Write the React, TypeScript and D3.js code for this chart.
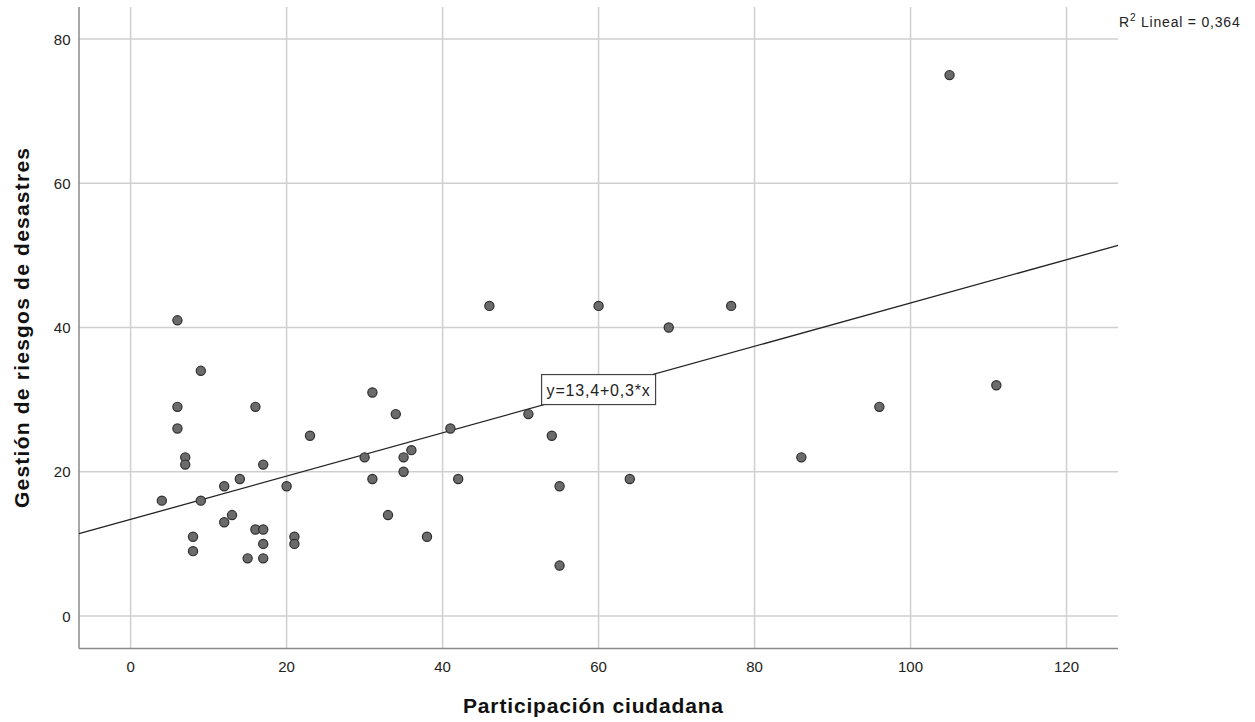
import * as d3 from "d3";
import React from "react";

// Participación ciudadana (x) vs Gestión de riesgos de desastres (y)
const participacion = [
  4, 6, 6, 6, 7, 7, 8, 8, 9, 9, 12, 12, 13, 14, 15, 16, 16, 17, 17, 17, 17, 20, 21, 21, 23,
  30, 31, 31, 33, 34, 35, 35, 36, 38, 41, 42, 46, 51, 54, 55, 55, 60, 64, 69, 77, 86, 96, 105, 111,
];
const gestion = [
  16, 41, 29, 26, 22, 21, 11, 9, 34, 16, 18, 13, 14, 19, 8, 29, 12, 21, 12, 10, 8, 18, 11, 10, 25,
  22, 31, 19, 14, 28, 22, 20, 23, 11, 26, 19, 43, 28, 25, 18, 7, 43, 19, 40, 43, 22, 29, 75, 32,
];
const xTicks = [0, 20, 40, 60, 80, 100, 120];
const yTicks = [0, 20, 40, 60, 80];
const fit = { intercept: 13.4, slope: 0.3, labelAt: 60, r2: "0,364" };

const W = 1255;
const H = 722;
const plot = { left: 79, right: 1118, top: 7, bottom: 648.5 };

export default function App() {
  const svgRef = React.useRef<SVGSVGElement>(null);

  React.useEffect(() => {
    document.body.style.margin = "0";
    if (!svgRef.current) return;
    const svg = d3.select(svgRef.current);
    svg.selectAll("*").remove();

    const x = d3.scaleLinear().domain([-6.62, 126.6]).range([plot.left, plot.right]);
    const y = d3.scaleLinear().domain([-4.5, 84.44]).range([plot.bottom, plot.top]);

    const font = "Liberation Sans, Arial, sans-serif";
    const grid = svg.append("g");

    // gridlines
    grid
      .selectAll("line.gx")
      .data(xTicks)
      .enter()
      .append("line")
      .attr("x1", (d) => x(d))
      .attr("x2", (d) => x(d))
      .attr("y1", plot.top)
      .attr("y2", plot.bottom)
      .attr("stroke", "#cfcfcf")
      .attr("stroke-width", 1.5);
    grid
      .selectAll("line.gy")
      .data(yTicks)
      .enter()
      .append("line")
      .attr("x1", plot.left)
      .attr("x2", plot.right)
      .attr("y1", (d) => y(d))
      .attr("y2", (d) => y(d))
      .attr("stroke", "#cfcfcf")
      .attr("stroke-width", 1.5);

    // axis lines
    svg
      .append("line")
      .attr("x1", plot.left)
      .attr("x2", plot.left)
      .attr("y1", plot.top)
      .attr("y2", plot.bottom)
      .attr("stroke", "#8a8a8a")
      .attr("stroke-width", 1.5);
    svg
      .append("line")
      .attr("x1", plot.left)
      .attr("x2", plot.right)
      .attr("y1", plot.bottom)
      .attr("y2", plot.bottom)
      .attr("stroke", "#8a8a8a")
      .attr("stroke-width", 1.5);

    // tick labels
    svg
      .selectAll("text.xt")
      .data(xTicks)
      .enter()
      .append("text")
      .attr("x", (d) => x(d))
      .attr("y", 672)
      .attr("text-anchor", "middle")
      .attr("font-family", font)
      .attr("font-size", 15)
      .attr("fill", "#222")
      .text((d) => d);
    svg
      .selectAll("text.yt")
      .data(yTicks)
      .enter()
      .append("text")
      .attr("x", 70.5)
      .attr("y", (d) => y(d) + 5.5)
      .attr("text-anchor", "end")
      .attr("font-family", font)
      .attr("font-size", 15)
      .attr("fill", "#222")
      .text((d) => d);

    // axis titles
    svg
      .append("text")
      .attr("x", 593)
      .attr("y", 713)
      .attr("text-anchor", "middle")
      .attr("font-family", font)
      .attr("font-weight", "bold")
      .attr("font-size", 21)
      .attr("textLength", 260)
      .attr("lengthAdjust", "spacing")
      .attr("fill", "#111")
      .text("Participación ciudadana");
    svg
      .append("text")
      .attr("transform", `translate(29,328) rotate(-90)`)
      .attr("text-anchor", "middle")
      .attr("font-family", font)
      .attr("font-weight", "bold")
      .attr("font-size", 21)
      .attr("textLength", 360)
      .attr("lengthAdjust", "spacing")
      .attr("fill", "#111")
      .text("Gestión de riesgos de desastres");

    // regression line
    const ends = x.domain();
    const line = d3
      .line<number>()
      .x((d) => x(d))
      .y((d) => y(fit.intercept + fit.slope * d));
    svg
      .append("path")
      .datum(ends)
      .attr("d", line)
      .attr("fill", "none")
      .attr("stroke", "#222")
      .attr("stroke-width", 1.3);

    // points
    const pts = participacion.map((v, i) => [v, gestion[i]] as [number, number]);
    svg
      .append("g")
      .selectAll("circle")
      .data(pts)
      .enter()
      .append("circle")
      .attr("cx", (d) => x(d[0]))
      .attr("cy", (d) => y(d[1]))
      .attr("r", 4.6)
      .attr("fill", "#6b6b6b")
      .attr("stroke", "#2e2e2e")
      .attr("stroke-width", 1.2);

    // equation label box
    const lx = x(fit.labelAt);
    const ly = y(fit.intercept + fit.slope * fit.labelAt);
    svg
      .append("rect")
      .attr("x", lx - 57)
      .attr("y", ly - 15)
      .attr("width", 114)
      .attr("height", 30)
      .attr("fill", "#fff")
      .attr("stroke", "#444")
      .attr("stroke-width", 1.2);
    svg
      .append("text")
      .attr("x", lx)
      .attr("y", ly + 6)
      .attr("text-anchor", "middle")
      .attr("font-family", font)
      .attr("font-size", 16)
      .attr("letter-spacing", 0.8)
      .attr("fill", "#222")
      .text(`y=${fit.intercept.toString().replace(".", ",")}+${fit.slope.toString().replace(".", ",")}*x`);

    // R2 annotation
    const r2 = svg
      .append("text")
      .attr("x", 1119)
      .attr("y", 27)
      .attr("font-family", font)
      .attr("font-size", 14)
      .attr("letter-spacing", 0.8)
      .attr("fill", "#222");
    r2.append("tspan").text("R");
    r2.append("tspan").attr("font-size", 10).attr("dy", -6).text("2");
    r2.append("tspan").attr("dy", 6).text(` Lineal = ${fit.r2}`);
  }, []);

  return (
    <svg
      ref={svgRef}
      width={W}
      height={H}
      style={{ display: "block", background: "#fff" }}
      role="img"
      aria-label="Scatter plot"
    />
  );
}
